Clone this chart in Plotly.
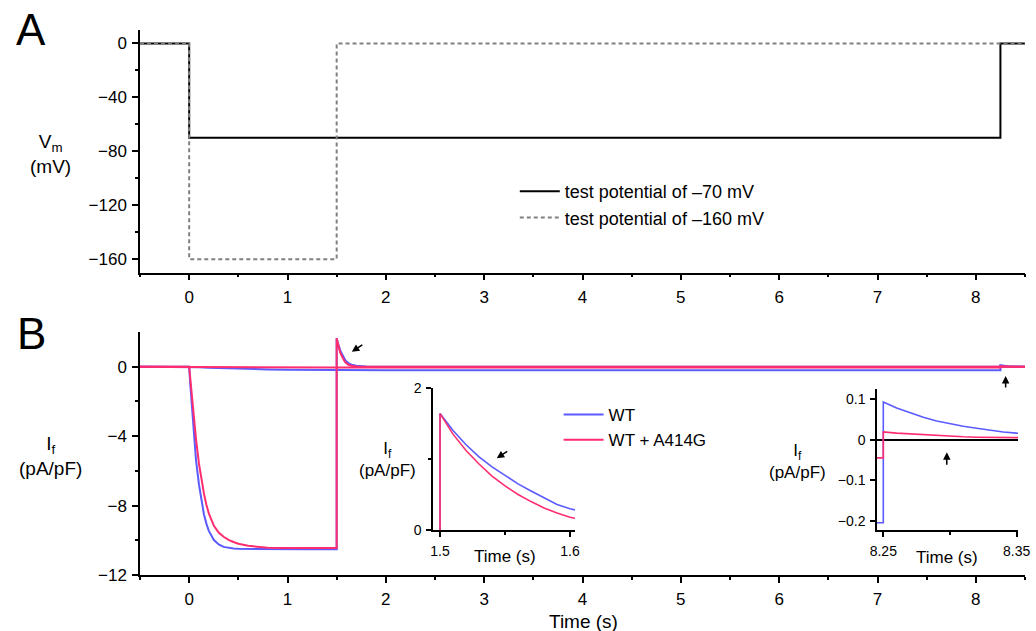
import plotly.graph_objects as go

# ---- Panel A: voltage protocols (time in s, voltage in mV) ----
proto70_t = [-0.5, 0.0, 0.0, 8.25, 8.25, 8.5]
proto70_v = [0, 0, -70, -70, 0, 0]
proto160_t = [-0.5, 0.0, 0.0, 1.5, 1.5, 8.5]
proto160_v = [0, 0, -160, -160, 0, 0]

# ---- Panel B: If density (pA/pF) ----
# activation at -160 mV
act_t = [-0.5, 0.0, 0.01, 0.02, 0.03, 0.05, 0.07, 0.10, 0.125, 0.15, 0.175, 0.20,
         0.25, 0.30, 0.35, 0.40, 0.45, 0.50, 0.60, 0.70, 0.80, 1.00, 1.20, 1.50]
act_wt = [0, 0, -0.9, -1.6, -2.4, -3.96, -5.4, -6.8, -7.76, -8.5, -9.04, -9.46,
          -9.97, -10.24, -10.38, -10.44, -10.47, -10.49, -10.5, -10.51, -10.51, -10.52, -10.52, -10.52]
act_mut = [0, 0, -0.6, -1.2, -1.9, -3.1, -4.2, -5.6, -6.5, -7.3, -7.95, -8.45,
           -9.15, -9.55, -9.8, -9.98, -10.1, -10.2, -10.32, -10.39, -10.43, -10.45, -10.45, -10.45]
# tail current on return to 0 mV
tail_t = [1.5, 1.51, 1.52, 1.53, 1.54, 1.55, 1.56, 1.57, 1.58, 1.59, 1.60,
          1.61, 1.62, 1.65, 1.70, 1.80, 1.90, 2.00, 8.50]
tail_wt = [1.64, 1.40, 1.20, 1.03, 0.89, 0.77, 0.65, 0.55, 0.45, 0.36, 0.30,
           0.25, 0.21, 0.12, 0.055, 0.012, 0.003, 0.0, 0.0]
tail_mut = [1.64, 1.35, 1.12, 0.93, 0.76, 0.62, 0.50, 0.40, 0.31, 0.24, 0.18,
            0.14, 0.11, 0.05, 0.015, 0.002, 0.0, 0.0, 0.0]
# test potential of -70 mV
hold_t = [-0.5, 0.0, 0.1, 0.2, 0.4, 0.6, 0.8, 1.0, 1.5, 2.0, 3.0, 8.25]
hold_wt = [0, 0, -0.03, -0.06, -0.10, -0.13, -0.155, -0.17, -0.19, -0.2, -0.205, -0.205]
hold_mut = [0, 0, -0.007, -0.012, -0.02, -0.027, -0.032, -0.036, -0.042, -0.044, -0.045, -0.045]
ret_t = [8.25, 8.26, 8.27, 8.28, 8.29, 8.30, 8.31, 8.32, 8.33, 8.34, 8.35, 8.40, 8.50]
ret_wt = [0.093, 0.078, 0.066, 0.055, 0.046, 0.039, 0.033, 0.028, 0.023, 0.019, 0.016, 0.007, 0.002]
ret_mut = [0.019, 0.016, 0.014, 0.012, 0.010, 0.008, 0.007, 0.006, 0.005, 0.004, 0.003, 0.001, 0.0]

BLUE = "#5b5bff"
RED = "#ff2d6f"
GRAY = "#808080"
FONT = "Liberation Sans, Arial, sans-serif"

t160 = act_t + tail_t
wt160 = act_wt + tail_wt
mut160 = act_mut + tail_mut
t70 = hold_t + ret_t
wt70 = hold_wt + ret_wt
mut70 = hold_mut + ret_mut

fig = go.Figure()

# Panel A
fig.add_trace(go.Scatter(x=proto70_t, y=proto70_v, mode="lines", xaxis="x", yaxis="y",
                         line=dict(color="black", width=2),
                         name="test potential of \u201370 mV", legend="legend"))
fig.add_trace(go.Scatter(x=proto160_t, y=proto160_v, mode="lines", xaxis="x", yaxis="y",
                         line=dict(color=GRAY, width=2, dash="4px,3px"),
                         name="test potential of \u2013160 mV", legend="legend"))

# Panel B main
fig.add_trace(go.Scatter(x=t160, y=wt160, mode="lines", xaxis="x2", yaxis="y2",
                         line=dict(color=BLUE, width=2), name="WT", legend="legend2"))
fig.add_trace(go.Scatter(x=t70, y=wt70, mode="lines", xaxis="x2", yaxis="y2",
                         line=dict(color=BLUE, width=2), showlegend=False))
fig.add_trace(go.Scatter(x=t160, y=mut160, mode="lines", xaxis="x2", yaxis="y2",
                         line=dict(color=RED, width=2), name="WT + A414G", legend="legend2"))
fig.add_trace(go.Scatter(x=t70, y=mut70, mode="lines", xaxis="x2", yaxis="y2",
                         line=dict(color=RED, width=2), showlegend=False))

# Inset: tail after -160 mV
fig.add_trace(go.Scatter(x=t160, y=wt160, mode="lines", xaxis="x3", yaxis="y3",
                         line=dict(color=BLUE, width=1.6), showlegend=False))
fig.add_trace(go.Scatter(x=t160, y=mut160, mode="lines", xaxis="x3", yaxis="y3",
                         line=dict(color=RED, width=1.6), showlegend=False))

# Inset: tail after -70 mV
fig.add_trace(go.Scatter(x=t70, y=wt70, mode="lines", xaxis="x4", yaxis="y4",
                         line=dict(color=BLUE, width=1.6), showlegend=False))
fig.add_trace(go.Scatter(x=t70, y=mut70, mode="lines", xaxis="x4", yaxis="y4",
                         line=dict(color=RED, width=1.6), showlegend=False))


def axis_style(size=17, ticklen=6, **kw):
    d = dict(showline=True, linecolor="black", linewidth=1.5, ticks="outside",
             tickcolor="black", tickwidth=1.5, ticklen=ticklen, showgrid=False,
             zeroline=False, tickfont=dict(size=size, color="black", family=FONT),
             ticklabelstandoff=2, automargin=False)
    d.update(kw)
    return d


minor_main = dict(ticks="outside", ticklen=3, tickcolor="black", tickwidth=1.5)

fig.update_layout(
    width=1036, height=631,
    margin=dict(l=140, r=11, t=30, b=56, autoexpand=False),
    paper_bgcolor="white", plot_bgcolor="white",
    font=dict(family=FONT, color="black"),
    xaxis=axis_style(domain=[0, 1], anchor="y", range=[-0.5, 8.5], tickmode="linear",
                     tick0=0, dtick=1, minor=dict(dtick=0.5, **minor_main)),
    yaxis=axis_style(domain=[0.5547, 1], anchor="x", range=[-170, 10], tickmode="linear",
                     tick0=0, dtick=40, minor=dict(dtick=20, **minor_main)),
    xaxis2=axis_style(domain=[0, 1], anchor="y2", range=[-0.5, 8.5], tickmode="linear",
                      tick0=0, dtick=1, minor=dict(dtick=0.5, **minor_main)),
    yaxis2=axis_style(domain=[0, 0.4459], anchor="x2", range=[-12, 2], tickmode="array",
                      tickvals=[-12, -8, -4, 0],
                      minor=dict(tickmode="array", tickvals=[-10, -6, -2], **minor_main)),
    xaxis3=axis_style(size=14, ticklen=5, domain=[0.3311, 0.4915], anchor="y3",
                      range=[1.4946, 1.6038], tickmode="array", tickvals=[1.5, 1.6],
                      ticktext=["1.5", "1.6"],
                      minor=dict(tickmode="array", tickvals=[1.55], **minor_main)),
    yaxis3=axis_style(size=14, ticklen=5, domain=[0.0826, 0.3431], anchor="x3",
                      range=[0, 2], tickmode="array", tickvals=[0, 2],
                      minor=dict(tickmode="array", tickvals=[1], **minor_main)),
    xaxis4=axis_style(size=14, ticklen=5, domain=[0.8328, 0.9921], anchor="y4",
                      range=[8.2453, 8.351], tickmode="array", tickvals=[8.25, 8.35],
                      ticktext=["8.25", "8.35"],
                      minor=dict(tickmode="array", tickvals=[8.30], **minor_main)),
    yaxis4=axis_style(size=14, ticklen=5, domain=[0.0826, 0.3413], anchor="x4",
                      range=[-0.223, 0.125], tickmode="array",
                      tickvals=[-0.2, -0.1, 0, 0.1],
                      ticktext=["\u22120.2", "\u22120.1", "0", "0.1"],
                      zeroline=True, zerolinecolor="black", zerolinewidth=1.5),
    legend=dict(x=0.4235, y=0.7376, xanchor="left", yanchor="top",
                bgcolor="rgba(0,0,0,0)", font=dict(size=18, family=FONT),
                itemwidth=40, traceorder="normal"),
    legend2=dict(x=0.473, y=0.3266, xanchor="left", yanchor="top",
                 bgcolor="rgba(0,0,0,0)", font=dict(size=17, family=FONT),
                 itemwidth=40, traceorder="normal"),
)

W, X0 = 885.0, 140.0
H, Y0 = 545.0, 575.0


def px(xp):
    return (xp - X0) / W


def py(yp):
    return (Y0 - yp) / H


texts = [
    ("A", 31, 29, 44),
    ("B", 31, 333, 44),
    ("V<sub>m</sub><br>(mV)", 50, 154, 19),
    ("I<sub>f</sub><br>(pA/pF)", 50, 456, 19),
    ("Time (s)", 583, 621, 19),
    ("I<sub>f</sub><br>(pA/pF)", 387, 460, 17),
    ("Time (s)", 505, 556, 17),
    ("I<sub>f</sub><br>(pA/pF)", 797, 461, 17),
    ("Time (s)", 947, 557, 17),
]
for txt, xp, yp, sz in texts:
    fig.add_annotation(text=txt, xref="paper", yref="paper", x=px(xp), y=py(yp),
                       xanchor="center", yanchor="middle", showarrow=False,
                       font=dict(size=sz, family=FONT, color="black"), align="center")

arrows = [
    ("x2", "y2", 1.654, 0.86, 12, -8),
    ("x2", "y2", 8.303, -0.54, 0, 13),
    ("x3", "y3", 1.5436, 1.01, 12, -8),
    ("x4", "y4", 8.2976, -0.031, 0, 14),
]
for xr, yr, xa, ya, axp, ayp in arrows:
    fig.add_annotation(xref=xr, yref=yr, x=xa, y=ya, ax=axp, ay=ayp, text="",
                       showarrow=True, arrowhead=2, arrowsize=1, arrowwidth=1.5,
                       arrowcolor="black", standoff=0)

fig.write_html("out.html")
